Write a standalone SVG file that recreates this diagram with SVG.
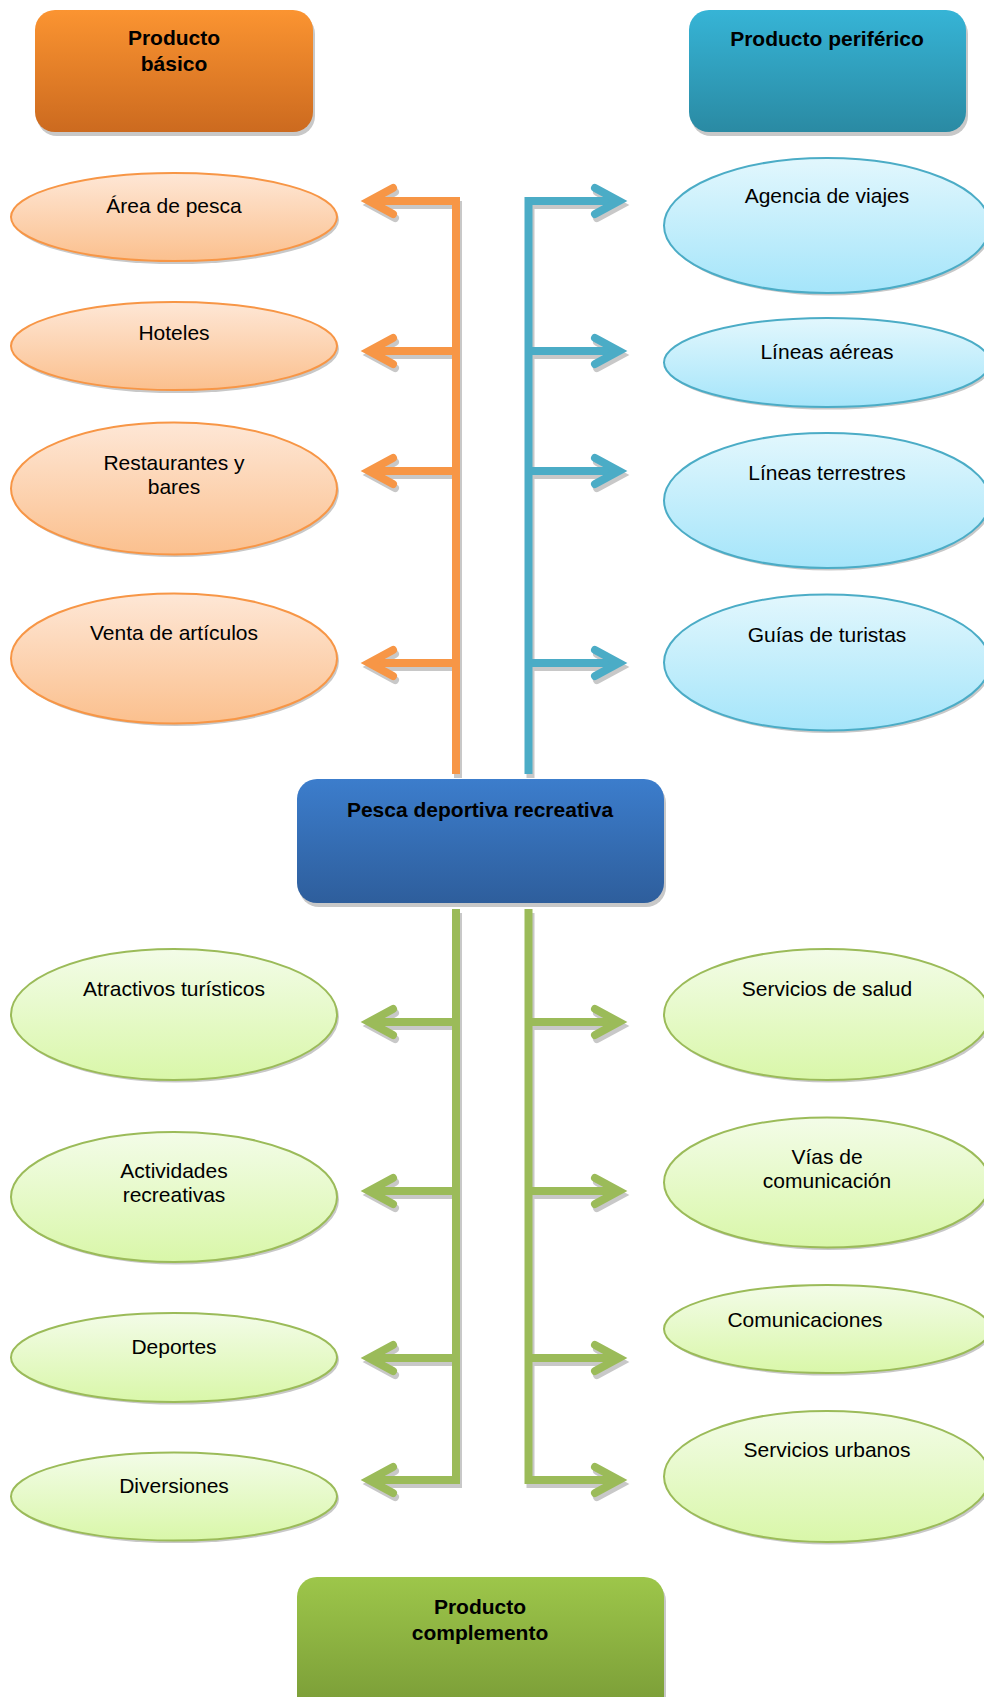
<svg xmlns="http://www.w3.org/2000/svg" width="984" height="1697" viewBox="0 0 984 1697">
<defs>
<linearGradient id="gOrB" x1="0" y1="0" x2="0" y2="1"><stop offset="0" stop-color="#FB9431"/><stop offset="1" stop-color="#CC6A1F"/></linearGradient>
<linearGradient id="gBlB" x1="0" y1="0" x2="0" y2="1"><stop offset="0" stop-color="#36B4D6"/><stop offset="1" stop-color="#2A8AA3"/></linearGradient>
<linearGradient id="gCeB" x1="0" y1="0" x2="0" y2="1"><stop offset="0" stop-color="#3C7DCC"/><stop offset="1" stop-color="#2E5E9C"/></linearGradient>
<linearGradient id="gGrB" x1="0" y1="0" x2="0" y2="1"><stop offset="0" stop-color="#9DC64A"/><stop offset="1" stop-color="#789A36"/></linearGradient>
<linearGradient id="gOrE" x1="0" y1="0" x2="0" y2="1"><stop offset="0" stop-color="#FEE7D6"/><stop offset="1" stop-color="#FBC08E"/></linearGradient>
<linearGradient id="gBlE" x1="0" y1="0" x2="0" y2="1"><stop offset="0" stop-color="#E2F7FD"/><stop offset="1" stop-color="#A5E5FA"/></linearGradient>
<linearGradient id="gGrE" x1="0" y1="0" x2="0" y2="1"><stop offset="0" stop-color="#F3FCE8"/><stop offset="1" stop-color="#D9F7A9"/></linearGradient>
</defs>
<style>
text{font-family:"Liberation Sans",Arial,sans-serif;font-size:21px;fill:#000;text-anchor:middle}
.b{font-weight:bold}
.sh{fill:#C8C8C8}
.eo{fill:url(#gOrE);stroke:#F79646;stroke-width:2}
.eb{fill:url(#gBlE);stroke:#4BACC6;stroke-width:2}
.eg{fill:url(#gGrE);stroke:#9BBB59;stroke-width:2}
.ln{fill:none;stroke-width:8;stroke-linejoin:miter}
.bar{fill:none;stroke-width:8;stroke-linecap:round;stroke-linejoin:miter}
.o{stroke:#F79646}.bl{stroke:#4BACC6}.gr{stroke:#9BBB59}
.s{stroke:#C8C8C8}
</style>

<g id="connectors">
 <g transform="translate(2,4)">
  <path class="ln s" d="M456,774 V201 H369 M456,351 H369 M456,471 H369 M456,663 H369"/>
  <path class="bar s" d="M393,188 L369,201 L393,214 M393,338 L369,351 L393,364 M393,458 L369,471 L393,484 M393,650 L369,663 L393,676"/>
  <path class="ln s" d="M528.5,774 V201 H619 M528.5,351 H619 M528.5,471 H619 M528.5,663 H619"/>
  <path class="bar s" d="M595,188 L619,201 L595,214 M595,338 L619,351 L595,364 M595,458 L619,471 L595,484 M595,650 L619,663 L595,676"/>
  <path class="ln s" d="M456,909 V1480 H369 M456,1022 H369 M456,1191 H369 M456,1358 H369"/>
  <path class="bar s" d="M393,1009 L369,1022 L393,1035 M393,1178 L369,1191 L393,1204 M393,1345 L369,1358 L393,1371 M393,1467 L369,1480 L393,1493"/>
  <path class="ln s" d="M528.5,909 V1480 H619 M528.5,1022 H619 M528.5,1191 H619 M528.5,1358 H619"/>
  <path class="bar s" d="M595,1009 L619,1022 L595,1035 M595,1178 L619,1191 L595,1204 M595,1345 L619,1358 L595,1371 M595,1467 L619,1480 L595,1493"/>
 </g>
 <path class="ln o" d="M456,774 V201 H369 M456,351 H369 M456,471 H369 M456,663 H369"/>
 <path class="bar o" d="M393,188 L369,201 L393,214 M393,338 L369,351 L393,364 M393,458 L369,471 L393,484 M393,650 L369,663 L393,676"/>
 <path class="ln bl" d="M528.5,774 V201 H619 M528.5,351 H619 M528.5,471 H619 M528.5,663 H619"/>
 <path class="bar bl" d="M595,188 L619,201 L595,214 M595,338 L619,351 L595,364 M595,458 L619,471 L595,484 M595,650 L619,663 L595,676"/>
 <path class="ln gr" d="M456,909 V1480 H369 M456,1022 H369 M456,1191 H369 M456,1358 H369"/>
 <path class="bar gr" d="M393,1009 L369,1022 L393,1035 M393,1178 L369,1191 L393,1204 M393,1345 L369,1358 L393,1371 M393,1467 L369,1480 L393,1493"/>
 <path class="ln gr" d="M528.5,909 V1480 H619 M528.5,1022 H619 M528.5,1191 H619 M528.5,1358 H619"/>
 <path class="bar gr" d="M595,1009 L619,1022 L595,1035 M595,1178 L619,1191 L595,1204 M595,1345 L619,1358 L595,1371 M595,1467 L619,1480 L595,1493"/>
</g>

<g id="producto-basico">
 <rect class="sh" x="37" y="14" width="278" height="122" rx="20"/>
 <rect x="35" y="10" width="278" height="122" rx="20" fill="url(#gOrB)"/>
 <text class="b" x="174" y="45">Producto</text>
 <text class="b" x="174" y="71">básico</text>
</g>
<g id="producto-periferico">
 <rect class="sh" x="691" y="14" width="277" height="122" rx="20"/>
 <rect x="689" y="10" width="277" height="122" rx="20" fill="url(#gBlB)"/>
 <text class="b" x="827" y="46">Producto periférico</text>
</g>
<g id="pesca">
 <rect class="sh" x="299" y="783" width="367" height="124" rx="20"/>
 <rect x="297" y="779" width="367" height="124" rx="20" fill="url(#gCeB)"/>
 <text class="b" x="480" y="817">Pesca deportiva recreativa</text>
</g>
<g id="producto-complemento">
 <rect class="sh" x="299" y="1581" width="367" height="140" rx="20"/>
 <rect x="297" y="1577" width="367" height="140" rx="20" fill="url(#gGrB)"/>
 <text class="b" x="480" y="1614">Producto</text>
 <text class="b" x="480" y="1640">complemento</text>
</g>

<g id="area-pesca"><ellipse class="sh" cx="176" cy="220" rx="163" ry="44"/><ellipse class="eo" cx="174" cy="217" rx="163" ry="44"/><text x="174" y="213">Área de pesca</text></g>
<g id="hoteles"><ellipse class="sh" cx="176" cy="349" rx="163" ry="44"/><ellipse class="eo" cx="174" cy="346" rx="163" ry="44"/><text x="174" y="340">Hoteles</text></g>
<g id="restaurantes"><ellipse class="sh" cx="176" cy="491" rx="163" ry="66"/><ellipse class="eo" cx="174" cy="488.5" rx="163" ry="66"/><text x="174" y="470">Restaurantes y</text><text x="174" y="494">bares</text></g>
<g id="venta"><ellipse class="sh" cx="176" cy="661" rx="163" ry="65"/><ellipse class="eo" cx="174" cy="658.5" rx="163" ry="65"/><text x="174" y="640">Venta de artículos</text></g>

<g id="agencia"><ellipse class="sh" cx="829" cy="228" rx="163" ry="67.5"/><ellipse class="eb" cx="827" cy="225.5" rx="163" ry="67.5"/><text x="827" y="203">Agencia de viajes</text></g>
<g id="lineas-aereas"><ellipse class="sh" cx="829" cy="365" rx="163" ry="44.5"/><ellipse class="eb" cx="827" cy="362.5" rx="163" ry="44.5"/><text x="827" y="359">Líneas aéreas</text></g>
<g id="lineas-terrestres"><ellipse class="sh" cx="829" cy="503" rx="163" ry="67.5"/><ellipse class="eb" cx="827" cy="500.5" rx="163" ry="67.5"/><text x="827" y="480">Líneas terrestres</text></g>
<g id="guias"><ellipse class="sh" cx="829" cy="665" rx="163" ry="68"/><ellipse class="eb" cx="827" cy="662.5" rx="163" ry="68"/><text x="827" y="642">Guías de turistas</text></g>

<g id="atractivos"><ellipse class="sh" cx="176" cy="1017" rx="163" ry="65.5"/><ellipse class="eg" cx="174" cy="1014.5" rx="163" ry="65.5"/><text x="174" y="996">Atractivos turísticos</text></g>
<g id="actividades"><ellipse class="sh" cx="176" cy="1199.5" rx="163" ry="65"/><ellipse class="eg" cx="174" cy="1197" rx="163" ry="65"/><text x="174" y="1178">Actividades</text><text x="174" y="1202">recreativas</text></g>
<g id="deportes"><ellipse class="sh" cx="176" cy="1360" rx="163" ry="44.5"/><ellipse class="eg" cx="174" cy="1357.5" rx="163" ry="44.5"/><text x="174" y="1354">Deportes</text></g>
<g id="diversiones"><ellipse class="sh" cx="176" cy="1499" rx="163" ry="44"/><ellipse class="eg" cx="174" cy="1496.5" rx="163" ry="44"/><text x="174" y="1493">Diversiones</text></g>

<g id="salud"><ellipse class="sh" cx="829" cy="1017" rx="163" ry="65.5"/><ellipse class="eg" cx="827" cy="1014.5" rx="163" ry="65.5"/><text x="827" y="996">Servicios de salud</text></g>
<g id="vias"><ellipse class="sh" cx="829" cy="1185" rx="163" ry="65"/><ellipse class="eg" cx="827" cy="1182.5" rx="163" ry="65"/><text x="827" y="1164">Vías de</text><text x="827" y="1188">comunicación</text></g>
<g id="comunicaciones"><ellipse class="sh" cx="829" cy="1331.5" rx="163" ry="44"/><ellipse class="eg" cx="827" cy="1329" rx="163" ry="44"/><text x="805" y="1327">Comunicaciones</text></g>
<g id="urbanos"><ellipse class="sh" cx="829" cy="1479" rx="163" ry="65.5"/><ellipse class="eg" cx="827" cy="1476.5" rx="163" ry="65.5"/><text x="827" y="1457">Servicios urbanos</text></g>
</svg>
